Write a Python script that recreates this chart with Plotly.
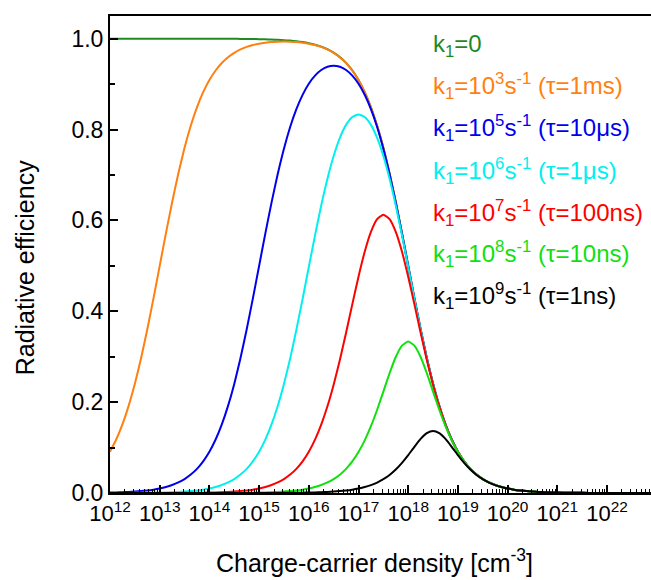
import plotly.graph_objects as go

# log10 of charge-carrier density [cm^-3]
log_density = [
    12.0, 12.125, 12.25, 12.375, 12.5, 12.625, 12.75, 12.875,
    13.0, 13.125, 13.25, 13.375, 13.5, 13.625, 13.75, 13.875,
    14.0, 14.125, 14.25, 14.375, 14.5, 14.625, 14.75, 14.875,
    15.0, 15.125, 15.25, 15.375, 15.5, 15.625, 15.75, 15.875,
    16.0, 16.125, 16.25, 16.375, 16.5, 16.625, 16.75, 16.875,
    17.0, 17.125, 17.25, 17.375, 17.5, 17.625, 17.75, 17.875,
    18.0, 18.125, 18.25, 18.375, 18.5, 18.625, 18.75, 18.875,
    19.0, 19.125, 19.25, 19.375, 19.5, 19.625, 19.75, 19.875,
    20.0, 20.125, 20.25, 20.375, 20.5, 20.625, 20.75, 20.875,
    21.0, 21.25, 21.5, 21.75, 22.0, 22.25, 22.5, 22.75, 22.9]

eff_k1_0 = [
    1.0, 1.0, 1.0, 1.0, 1.0, 1.0, 1.0, 1.0,
    1.0, 1.0, 1.0, 1.0, 1.0, 1.0, 0.9999, 0.9999,
    0.9999, 0.9999, 0.9998, 0.9998, 0.9997, 0.9996, 0.9994, 0.9993,
    0.999, 0.9987, 0.9982, 0.9976, 0.9968, 0.9958, 0.9944, 0.9926,
    0.9901, 0.9868, 0.9825, 0.9768, 0.9693, 0.9595, 0.9468, 0.9302,
    0.9091, 0.8823, 0.849, 0.8083, 0.7598, 0.7034, 0.6401, 0.5715,
    0.5, 0.4285, 0.36, 0.2966, 0.2403, 0.1917, 0.151, 0.1177,
    0.0909, 0.0698, 0.0532, 0.0405, 0.0307, 0.0232, 0.0175, 0.0132,
    0.0099, 0.0074, 0.0056, 0.0042, 0.0032, 0.0024, 0.0018, 0.0013,
    0.001, 0.0006, 0.0003, 0.0002, 0.0001, 0.0001, 0.0, 0.0, 0.0]
eff_k1_1e3 = [
    0.0909, 0.1177, 0.151, 0.1917, 0.2403, 0.2966, 0.36, 0.4285,
    0.5, 0.5715, 0.6401, 0.7034, 0.7598, 0.8083, 0.849, 0.8823,
    0.909, 0.9301, 0.9466, 0.9593, 0.969, 0.9764, 0.982, 0.9861,
    0.9891, 0.9912, 0.9927, 0.9935, 0.9937, 0.9935, 0.9927, 0.9912,
    0.9891, 0.9861, 0.982, 0.9764, 0.969, 0.9593, 0.9466, 0.9301,
    0.909, 0.8823, 0.849, 0.8083, 0.7598, 0.7034, 0.6401, 0.5715,
    0.5, 0.4285, 0.36, 0.2966, 0.2403, 0.1917, 0.151, 0.1177,
    0.0909, 0.0698, 0.0532, 0.0405, 0.0307, 0.0232, 0.0175, 0.0132,
    0.0099, 0.0074, 0.0056, 0.0042, 0.0032, 0.0024, 0.0018, 0.0013,
    0.001, 0.0006, 0.0003, 0.0002, 0.0001, 0.0001, 0.0, 0.0, 0.0]
eff_k1_1e5 = [
    0.001, 0.0013, 0.0018, 0.0024, 0.0032, 0.0042, 0.0056, 0.0074,
    0.0099, 0.0132, 0.0175, 0.0232, 0.0307, 0.0405, 0.0532, 0.0698,
    0.0909, 0.1177, 0.151, 0.1917, 0.2402, 0.2966, 0.3599, 0.4284,
    0.4998, 0.571, 0.6393, 0.7022, 0.7579, 0.8056, 0.845, 0.8765,
    0.9009, 0.9188, 0.9311, 0.9382, 0.9405, 0.9382, 0.9311, 0.9188,
    0.9009, 0.8765, 0.845, 0.8056, 0.7579, 0.7022, 0.6393, 0.571,
    0.4998, 0.4284, 0.3599, 0.2966, 0.2402, 0.1917, 0.151, 0.1177,
    0.0909, 0.0698, 0.0532, 0.0405, 0.0307, 0.0232, 0.0175, 0.0132,
    0.0099, 0.0074, 0.0056, 0.0042, 0.0032, 0.0024, 0.0018, 0.0013,
    0.001, 0.0006, 0.0003, 0.0002, 0.0001, 0.0001, 0.0, 0.0, 0.0]
eff_k1_1e6 = [
    0.0001, 0.0001, 0.0002, 0.0002, 0.0003, 0.0004, 0.0006, 0.0007,
    0.001, 0.0013, 0.0018, 0.0024, 0.0032, 0.0042, 0.0056, 0.0074,
    0.0099, 0.0132, 0.0175, 0.0232, 0.0307, 0.0405, 0.0532, 0.0698,
    0.0909, 0.1176, 0.1509, 0.1916, 0.2401, 0.2962, 0.3592, 0.4272,
    0.4975, 0.5671, 0.6329, 0.6918, 0.7419, 0.7817, 0.8103, 0.8276,
    0.8333, 0.8276, 0.8103, 0.7817, 0.7419, 0.6918, 0.6329, 0.5671,
    0.4975, 0.4272, 0.3592, 0.2962, 0.2401, 0.1916, 0.1509, 0.1176,
    0.0909, 0.0698, 0.0532, 0.0405, 0.0307, 0.0232, 0.0175, 0.0132,
    0.0099, 0.0074, 0.0056, 0.0042, 0.0032, 0.0024, 0.0018, 0.0013,
    0.001, 0.0006, 0.0003, 0.0002, 0.0001, 0.0001, 0.0, 0.0, 0.0]
eff_k1_1e7 = [
    0.0, 0.0, 0.0, 0.0, 0.0, 0.0, 0.0001, 0.0001,
    0.0001, 0.0001, 0.0002, 0.0002, 0.0003, 0.0004, 0.0006, 0.0007,
    0.001, 0.0013, 0.0018, 0.0024, 0.0032, 0.0042, 0.0056, 0.0074,
    0.0099, 0.0132, 0.0175, 0.0232, 0.0307, 0.0405, 0.0532, 0.0697,
    0.0908, 0.1175, 0.1506, 0.1908, 0.2384, 0.2929, 0.3528, 0.4152,
    0.4762, 0.531, 0.5747, 0.6028, 0.6126, 0.6028, 0.5747, 0.531,
    0.4762, 0.4152, 0.3528, 0.2929, 0.2384, 0.1908, 0.1506, 0.1175,
    0.0908, 0.0697, 0.0532, 0.0405, 0.0307, 0.0232, 0.0175, 0.0132,
    0.0099, 0.0074, 0.0056, 0.0042, 0.0032, 0.0024, 0.0018, 0.0013,
    0.001, 0.0006, 0.0003, 0.0002, 0.0001, 0.0001, 0.0, 0.0, 0.0]
eff_k1_1e8 = [
    0.0, 0.0, 0.0, 0.0, 0.0, 0.0, 0.0, 0.0,
    0.0, 0.0, 0.0, 0.0, 0.0, 0.0, 0.0001, 0.0001,
    0.0001, 0.0001, 0.0002, 0.0002, 0.0003, 0.0004, 0.0006, 0.0007,
    0.001, 0.0013, 0.0018, 0.0024, 0.0032, 0.0042, 0.0056, 0.0074,
    0.0099, 0.0132, 0.0175, 0.0232, 0.0306, 0.0404, 0.0531, 0.0694,
    0.0901, 0.1158, 0.147, 0.1833, 0.2233, 0.2636, 0.2994, 0.3243,
    0.3333, 0.3243, 0.2994, 0.2636, 0.2233, 0.1833, 0.147, 0.1158,
    0.0901, 0.0694, 0.0531, 0.0404, 0.0306, 0.0232, 0.0175, 0.0132,
    0.0099, 0.0074, 0.0056, 0.0042, 0.0032, 0.0024, 0.0018, 0.0013,
    0.001, 0.0006, 0.0003, 0.0002, 0.0001, 0.0001, 0.0, 0.0, 0.0]
eff_k1_1e9 = [
    0.0, 0.0, 0.0, 0.0, 0.0, 0.0, 0.0, 0.0,
    0.0, 0.0, 0.0, 0.0, 0.0, 0.0, 0.0, 0.0,
    0.0, 0.0, 0.0, 0.0, 0.0, 0.0, 0.0001, 0.0001,
    0.0001, 0.0001, 0.0002, 0.0002, 0.0003, 0.0004, 0.0006, 0.0007,
    0.001, 0.0013, 0.0018, 0.0024, 0.0032, 0.0042, 0.0056, 0.0074,
    0.0099, 0.0131, 0.0174, 0.023, 0.0304, 0.0398, 0.0517, 0.0663,
    0.0833, 0.1017, 0.119, 0.1318, 0.1365, 0.1318, 0.119, 0.1017,
    0.0833, 0.0663, 0.0517, 0.0398, 0.0304, 0.023, 0.0174, 0.0131,
    0.0099, 0.0074, 0.0056, 0.0042, 0.0032, 0.0024, 0.0018, 0.0013,
    0.001, 0.0006, 0.0003, 0.0002, 0.0001, 0.0001, 0.0, 0.0, 0.0]

series_values = [eff_k1_0, eff_k1_1e3, eff_k1_1e5, eff_k1_1e6, eff_k1_1e7, eff_k1_1e8, eff_k1_1e9]
series_labels = [
    "k<sub>1</sub>=0",
    "k<sub>1</sub>=10<sup>3</sup>s<sup>-1</sup> (τ=1ms)",
    "k<sub>1</sub>=10<sup>5</sup>s<sup>-1</sup> (τ=10μs)",
    "k<sub>1</sub>=10<sup>6</sup>s<sup>-1</sup> (τ=1μs)",
    "k<sub>1</sub>=10<sup>7</sup>s<sup>-1</sup> (τ=100ns)",
    "k<sub>1</sub>=10<sup>8</sup>s<sup>-1</sup> (τ=10ns)",
    "k<sub>1</sub>=10<sup>9</sup>s<sup>-1</sup> (τ=1ns)",
]
series_colors = ["#1f8a1f", "#ff7f10", "#0000ee", "#00f0f0", "#ff0000", "#10e010", "#000000"]

x_tick_exponents = [12, 13, 14, 15, 16, 17, 18, 19, 20, 21, 22]
x_tick_labels = ["10<sup>%d</sup>" % e for e in x_tick_exponents]

density = [10.0 ** v for v in log_density]
FONT = "Liberation Sans, Arial, sans-serif"

fig = go.Figure()
for vals, lab, col in zip(series_values, series_labels, series_colors):
    fig.add_trace(go.Scatter(x=density, y=vals, mode="lines", name=lab,
                             line=dict(color=col, width=2, shape="spline", smoothing=0.5),
                             showlegend=False))

legend_y = [45, 86, 128, 171, 213, 254, 296]
for lab, col, ypx in zip(series_labels, series_colors, legend_y):
    fig.add_annotation(text=lab, xref="paper", yref="paper",
                       x=(431 - 110) / 541, y=(492.7 - ypx) / 477,
                       xanchor="left", yanchor="middle", showarrow=False,
                       font=dict(family=FONT, size=24, color=col))

fig.add_annotation(text="Charge-carrier density [cm<sup>-3</sup>]", xref="paper", yref="paper",
                   x=(374.5 - 110) / 541, y=(492.7 - 561) / 477, xanchor="center", yanchor="middle",
                   showarrow=False, font=dict(family=FONT, size=25, color="black"))
fig.add_annotation(text="Radiative efficiency", xref="paper", yref="paper",
                   x=(25 - 110) / 541, y=(492.7 - 268) / 477, xanchor="center", yanchor="middle",
                   textangle=-90, showarrow=False, font=dict(family=FONT, size=25, color="black"))

minor_vals = [m * 10.0 ** e for e in range(12, 23) for m in range(2, 10)]

fig.update_xaxes(type="log", range=[12, 12 + 541 / 49.7], tickmode="array",
                 tickvals=[10.0 ** e for e in x_tick_exponents], ticktext=x_tick_labels,
                 ticks="inside", ticklen=8, tickwidth=1.5, tickcolor="black",
                 showline=True, linewidth=2, linecolor="black", mirror=True, showgrid=False,
                 zeroline=False, tickfont=dict(family=FONT, size=22, color="black"),
                 minor=dict(ticks="inside", ticklen=4, tickwidth=1, tickcolor="black",
                            tickmode="array", tickvals=minor_vals, showgrid=False))
fig.update_yaxes(range=[0, 1.05], dtick=0.2, tickformat=".1f", ticks="inside", ticklen=8,
                 tickwidth=1.5, tickcolor="black", showline=True, linewidth=2, linecolor="black",
                 showgrid=False, zeroline=False, tickfont=dict(family=FONT, size=23, color="black"),
                 minor=dict(ticks="inside", ticklen=5, tickwidth=1.5, tickcolor="black",
                            dtick=0.1, showgrid=False))

fig.update_layout(width=651, height=580, margin=dict(l=110, r=0, t=16, b=87),
                  plot_bgcolor="white", paper_bgcolor="white", font=dict(family=FONT))

fig.write_html("out.html", config={"displayModeBar": False},
               post_script="document.body.style.margin='0';")
